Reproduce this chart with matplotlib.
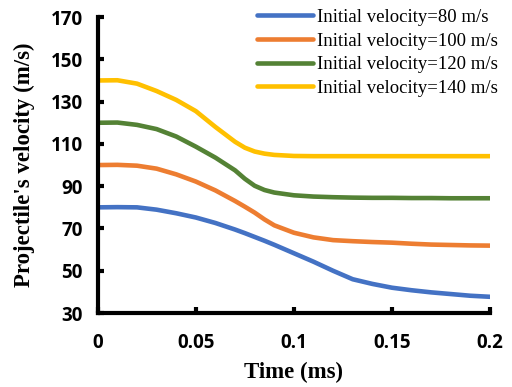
import numpy as np
import matplotlib.pyplot as plt

time_ms = [0, 0.01, 0.02, 0.03, 0.04, 0.05, 0.06, 0.07, 0.075, 0.08, 0.085, 0.09, 0.1,
           0.11, 0.12, 0.13, 0.14, 0.15, 0.16, 0.17, 0.18, 0.19, 0.2]
v80 = [80, 80.1, 80, 78.9, 77.2, 75.2, 72.6, 69.5, 67.8, 66, 64.2, 62.3, 58.3,
       54.3, 50, 46, 43.8, 42, 40.8, 39.8, 39, 38.2, 37.7]
v100 = [100, 100.1, 99.7, 98.3, 95.6, 92.2, 88, 83, 80.3, 77.5, 74.3, 71.5, 68,
        65.8, 64.5, 64, 63.6, 63.3, 62.8, 62.4, 62.2, 62, 61.9]
v120 = [120, 120.1, 119, 117, 113.5, 108.7, 103.5, 97.5, 93.5, 90.2, 88.2, 87, 85.7,
        85.1, 84.8, 84.6, 84.5, 84.5, 84.4, 84.4, 84.3, 84.3, 84.3]
v140 = [140, 140.1, 138.5, 135, 130.8, 125.5, 118, 111, 108.2, 106.4, 105.4, 104.8, 104.3,
        104.2, 104.2, 104.2, 104.2, 104.2, 104.2, 104.2, 104.2, 104.2, 104.2]
labels = ['Initial velocity=80 m/s', 'Initial velocity=100 m/s',
          'Initial velocity=120 m/s', 'Initial velocity=140 m/s']
colors = ['#4472C4', '#ED7D31', '#548235', '#FFC000']

fig = plt.figure(figsize=(5.12, 3.87), dpi=100)
ax = fig.add_axes([0.191, 0.191, 0.766, 0.765])

for v, lab, c in zip([v80, v100, v120, v140], labels, colors):
    ax.plot(time_ms, v, color=c, lw=3.3, label=lab, solid_capstyle='round',
            solid_joinstyle='round')

ax.set_xlim(0, 0.2)
ax.set_ylim(30, 170)
ax.set_xticks([0, 0.05, 0.1, 0.15, 0.2])
ax.set_xticklabels(['0', '0.05', '0.1', '0.15', '0.2'])
ax.set_yticks(range(30, 171, 20))

for s in ['top', 'right']:
    ax.spines[s].set_visible(False)
for s in ['left', 'bottom']:
    ax.spines[s].set_linewidth(3)
ax.spines['left'].set_capstyle('projecting')
ax.spines['bottom'].set_capstyle('projecting')

ax.tick_params(direction='in', length=4, width=3)
ax.tick_params(axis='x', pad=14)
ax.tick_params(axis='y', pad=11)
for t in ax.get_xticklabels() + ax.get_yticklabels():
    t.set_fontfamily('Open Sans')
    t.set_fontweight('bold')
    t.set_fontsize(13.5)

ax.set_xlabel('Time (ms)', fontfamily='Liberation Serif', fontweight='bold',
              fontsize=16.5, labelpad=7)
ax.set_ylabel("Projectile's velocity (m/s)", fontfamily='Liberation Serif',
              fontweight='bold', fontsize=16.5, labelpad=11)

leg = ax.legend(loc='upper right', bbox_to_anchor=(1.063, 1.085), frameon=False,
                prop={'family': 'Liberation Serif', 'size': 13.5},
                handlelength=3.0, handletextpad=0.2, labelspacing=0.35)

fig.savefig('out.png', dpi=100)
